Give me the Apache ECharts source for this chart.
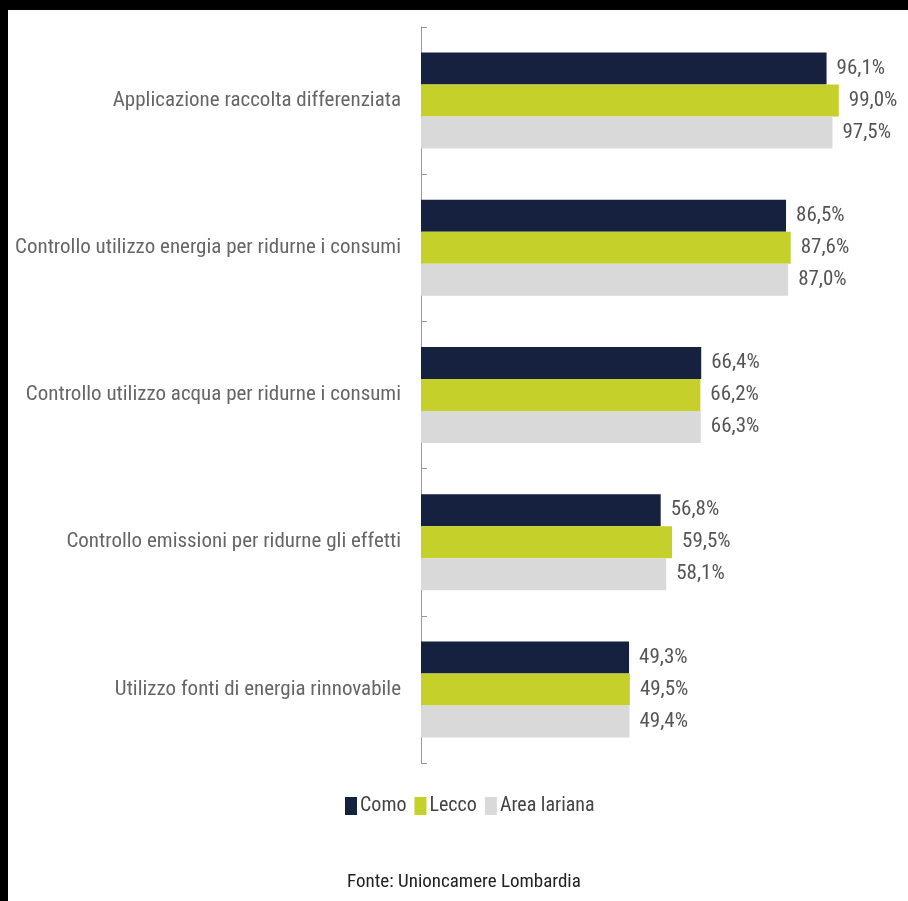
<!DOCTYPE html>
<html><head><meta charset="utf-8">
<script src="https://cdn.jsdelivr.net/npm/echarts@6/dist/echarts.min.js"></script>
<style>html,body{margin:0;padding:0;background:#fff}#c{width:908px;height:901px}</style>
</head><body><div id="c"></div>
<script>
var categories = [
  "Applicazione raccolta differenziata",
  "Controllo utilizzo energia per ridurne i consumi",
  "Controllo utilizzo acqua per ridurne i consumi",
  "Controllo emissioni per ridurne gli effetti",
  "Utilizzo fonti di energia rinnovabile"
];
var seriesNames = ["Como", "Lecco", "Area lariana"];
var como = [96.1, 86.5, 66.4, 56.8, 49.3];
var lecco = [99.0, 87.6, 66.2, 59.5, 49.5];
var area = [97.5, 87.0, 66.3, 58.1, 49.4];
var colors = ["#16203f", "#c5d12a", "#d9d9d9"];
var source = "Fonte: Unioncamere Lombardia";

var FONT = '"Liberation Sans Narrow", "Roboto Condensed", "Liberation Sans", sans-serif';
var chart = echarts.init(document.getElementById('c'));
function mk(name, data, color) {
  return {
    name: name, type: 'bar', data: data, barWidth: 32, barGap: '0%',
    itemStyle: { color: color },
    label: { show: true, position: 'right', distance: 10, fontFamily: FONT, fontSize: 21, color: '#555',
      formatter: function (p) { return p.value.toFixed(1).replace('.', ',') + '%'; } }
  };
}
chart.setOption({
  animation: false,
  color: colors,
  grid: { left: 421, top: 27, width: 422, height: 736, containLabel: false, outerBoundsMode: 'none' },
  xAxis: { type: 'value', min: 0, max: 100, show: false },
  yAxis: {
    type: 'category', data: categories, inverse: true,
    axisLine: { show: true, lineStyle: { color: '#999', width: 1 } },
    axisTick: { show: true, inside: true, length: 6, lineStyle: { color: '#999' } },
    axisLabel: { fontFamily: FONT, fontSize: 21, color: '#666', margin: 20 },
    splitLine: { show: false }
  },
  legend: {
    data: seriesNames, left: 340, top: 791, itemWidth: 12, itemHeight: 18, itemGap: 8,
    icon: 'rect', textStyle: { fontFamily: FONT, fontSize: 20, color: '#444', padding: [0, 0, 0, -2] }
  },
  series: [mk(seriesNames[0], como, colors[0]), mk(seriesNames[1], lecco, colors[1]), mk(seriesNames[2], area, colors[2])],
  graphic: [
    { type: 'rect', shape: { x: 0, y: 0, width: 908, height: 10 }, style: { fill: '#000' } },
    { type: 'rect', shape: { x: 0, y: 0, width: 8, height: 901 }, style: { fill: '#000' } },
    { type: 'text', left: 347, top: 873, style: { text: source, fontFamily: FONT, fontSize: 19, fill: '#222' } }
  ]
});
</script></body></html>
